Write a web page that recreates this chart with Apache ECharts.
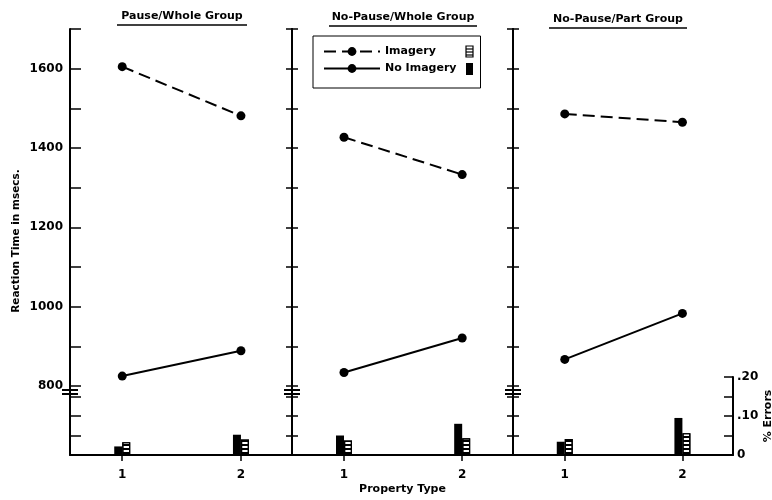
<!DOCTYPE html>
<html>
<head>
<meta charset="utf-8">
<script src="https://cdn.jsdelivr.net/npm/echarts@6/dist/echarts.min.js"></script>
<style>
  html, body { margin: 0; background: #fff; }
  #main { width: 772px; height: 500px; }
</style>
</head>
<body>
<div id="main"></div>
<script>
// data
const propertyTypes = [1, 2]
const panelTitles = ['Pause/Whole Group', 'No-Pause/Whole Group', 'No-Pause/Part Group']
// reaction time (msecs), one pair per panel
const imageryRT = [[1605, 1481], [1427, 1333], [1486, 1465]]
const noImageryRT = [[825, 889], [834, 921], [867, 983]]
// % errors, one pair per panel
const imageryErr = [[0.033, 0.040], [0.037, 0.043], [0.041, 0.056]]
const noImageryErr = [[0.022, 0.052], [0.050, 0.080], [0.034, 0.095]]
// tick labels
const rtTicks = [800, 1000, 1200, 1400, 1600]
const errTicks = [0, 0.1, 0.2]
const errTickLabels = ['0', '.10', '.20']

const FONT = 'DejaVu Sans'
const INK = '#000'
const panelLeft = [70, 292, 513]
const panelWidth = [222, 221, 220]
const rtTop = 29
const rtBottom = 386
const errTop = 377
const baseY = 455

const txt = (size) => ({ color: INK, fontFamily: FONT, fontWeight: 'bold', fontSize: size })

const grid = []
const xAxis = []
const yAxis = []
const series = []

// upper grids (reaction time), then lower grids (errors)
panelLeft.forEach((l, p) => {
  grid.push({ left: l, top: rtTop, width: panelWidth[p], height: rtBottom - rtTop, outerBoundsMode: 'none' })
})
panelLeft.forEach((l, p) => {
  grid.push({ left: l, top: errTop, width: panelWidth[p], height: baseY - errTop, outerBoundsMode: 'none' })
})

for (let g = 0; g < 6; g++) {
  const lower = g >= 3
  xAxis.push({
    gridIndex: g,
    type: 'value',
    min: 0.56,
    max: 2.43,
    show: lower,
    splitLine: { show: false },
    axisLine: { onZero: false, lineStyle: { color: INK, width: 2 } },
    axisTick: { customValues: propertyTypes, length: 6, lineStyle: { color: INK, width: 1.5 } },
    axisLabel: { customValues: propertyTypes, margin: 14, ...txt(12) },
    name: g === 4 ? 'Property Type' : '',
    nameLocation: 'middle',
    nameGap: 29,
    nameTextStyle: txt(11),
  })
}

function yAx(g, position, opts) {
  const lower = g >= 3
  return {
    gridIndex: g,
    type: 'value',
    position,
    min: lower ? 0 : 800,
    max: lower ? 0.2 : 1700,
    interval: lower ? 0.05 : 100,
    splitLine: { show: false },
    axisLine: { show: true, onZero: false, lineStyle: { color: INK, width: 2 } },
    axisTick: {
      inside: true,
      length: opts.tick,
      lineStyle: { color: INK, width: 1.5 },
      ...(lower && !opts.allTicks ? { customValues: [0.05, 0.1, 0.15] } : {}),
    },
    axisLabel: opts.label || { show: false },
    ...(opts.extra || {}),
  }
}

// panel 1 upper
yAxis.push(yAx(0, 'left', {
  tick: 11,
  label: { margin: 7, ...txt(12), formatter: v => rtTicks.includes(v) ? String(v) : '' },
}))
yAxis.push(yAx(0, 'right', { tick: 6 }))
// panel 2 upper
yAxis.push(yAx(1, 'left', { tick: 6 }))
yAxis.push(yAx(1, 'right', { tick: 6 }))
// panel 3 upper
yAxis.push(yAx(2, 'left', { tick: 6 }))
// lower panels
yAxis.push(yAx(3, 'left', { tick: 11 }))
yAxis.push(yAx(3, 'right', { tick: 6 }))
yAxis.push(yAx(4, 'left', { tick: 6 }))
yAxis.push(yAx(4, 'right', { tick: 6 }))
yAxis.push(yAx(5, 'left', { tick: 6 }))
yAxis.push(yAx(5, 'right', {
  tick: 9,
  allTicks: true,
  label: {
    margin: 4,
    ...txt(12),
    formatter: v => {
      const i = errTicks.findIndex(t => Math.abs(t - v) < 1e-6)
      return i >= 0 ? errTickLabels[i] : ''
    },
  },
  extra: {
    name: '% Errors',
    nameLocation: 'middle',
    nameRotate: 90,
    nameGap: 28,
    nameTextStyle: txt(11),
  },
}))

const upperY = [0, 2, 4]
const lowerY = [5, 7, 9]
const pairs = arr => propertyTypes.map((x, i) => [x, arr[i]])

panelLeft.forEach((_, p) => {
  series.push({
    name: 'Imagery',
    type: 'line',
    xAxisIndex: p,
    yAxisIndex: upperY[p],
    data: pairs(imageryRT[p]),
    symbol: 'circle',
    symbolSize: 9,
    itemStyle: { color: INK },
    lineStyle: { color: INK, width: 2, type: [12, 6] },
    z: 5,
  })
  series.push({
    name: 'No Imagery',
    type: 'line',
    xAxisIndex: p,
    yAxisIndex: upperY[p],
    data: pairs(noImageryRT[p]),
    symbol: 'circle',
    symbolSize: 9,
    itemStyle: { color: INK },
    lineStyle: { color: INK, width: 2 },
    z: 5,
  })
})
panelLeft.forEach((_, p) => {
  series.push({
    name: 'No Imagery',
    type: 'bar',
    xAxisIndex: 3 + p,
    yAxisIndex: lowerY[p],
    data: pairs(noImageryErr[p]),
    barWidth: 8,
    barGap: '0%',
    itemStyle: { color: INK },
  })
  series.push({
    name: 'Imagery',
    type: 'bar',
    xAxisIndex: 3 + p,
    yAxisIndex: lowerY[p],
    data: pairs(imageryErr[p]),
    barWidth: 8,
    barGap: '0%',
    itemStyle: {
      color: '#fff',
      borderColor: INK,
      borderWidth: 1.2,
      decal: { symbol: 'rect', symbolSize: 1, color: INK, dashArrayX: [1, 0], dashArrayY: [2, 1.5], rotation: 0 },
    },
  })
})

// titles with underline, axis title, break marks, legend bar swatches
const graphic = []
const titleX = [182, 403, 618]
const titleY = [16, 17, 19]
const titleHalf = [65, 74, 69]
panelTitles.forEach((t, p) => {
  graphic.push({
    type: 'text', x: titleX[p], y: titleY[p],
    style: { text: t, ...txt(11), fill: INK, align: 'center', verticalAlign: 'middle', font: 'bold 11px "DejaVu Sans"' },
  })
  graphic.push({
    type: 'line',
    shape: { x1: titleX[p] - titleHalf[p], y1: titleY[p] + 9, x2: titleX[p] + titleHalf[p], y2: titleY[p] + 9 },
    style: { stroke: INK, lineWidth: 1.5 },
  })
})
graphic.push({
  type: 'text', x: 16, y: 241, rotation: Math.PI / 2,
  style: { text: 'Reaction Time in msecs.', fill: INK, align: 'center', verticalAlign: 'middle', font: 'bold 10.5px "DejaVu Sans"' },
})
panelLeft.forEach(x => {
  [390, 394].forEach(y => {
    graphic.push({
      type: 'line',
      shape: { x1: x - 8, y1: y, x2: x + 8, y2: y },
      style: { stroke: INK, lineWidth: 2 },
      z: 10,
    })
  })
})
// legend bar swatches
graphic.push({ type: 'rect', shape: { x: 466, y: 46, width: 7, height: 11 }, style: { fill: '#fff', stroke: INK, lineWidth: 1.2 }, z: 20 })
;[49, 52, 55].forEach(y => {
  graphic.push({ type: 'line', shape: { x1: 466, y1: y, x2: 473, y2: y }, style: { stroke: INK, lineWidth: 1.2 }, z: 20 })
})
graphic.push({ type: 'rect', shape: { x: 466, y: 63, width: 7, height: 12 }, style: { fill: INK }, z: 20 })

const option = {
  animation: false,
  backgroundColor: '#fff',
  grid,
  xAxis,
  yAxis,
  legend: {
    orient: 'vertical',
    left: 313,
    top: 36,
    data: ['Imagery', 'No Imagery'],
    itemWidth: 56,
    itemHeight: 11,
    itemGap: 6,
    padding: [10, 24, 14, 10],
    borderColor: INK,
    borderWidth: 1,
    selectedMode: false,
    textStyle: txt(11),
  },
  series,
  graphic,
}

const chart = echarts.init(document.getElementById('main'))
chart.setOption(option)
</script>
</body>
</html>
